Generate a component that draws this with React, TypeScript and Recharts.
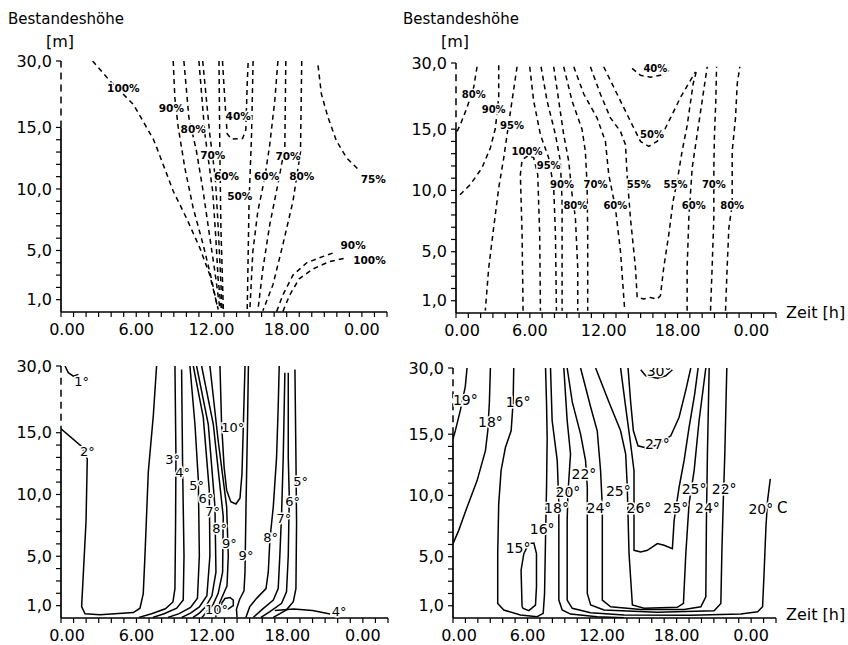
import React from "react";
import { ComposedChart, Line, Scatter, XAxis, YAxis, ReferenceLine } from "recharts";

type Pt = [number, number]; // [Zeit in h, Bestandeshöhe in m]
type Lbl = { t: string; h: number; m: number };

const FONT = '"DejaVu Sans", sans-serif';

// height axis is linear up to 15 m, the 15-30 m part is squeezed
const TOP_U = 20.4;
const toU = (m: number) => (m <= 15 ? m : 15 + ((m - 15) * (TOP_U - 15)) / 15);

const HOURS = Array.from({ length: 27 }, (_, i) => i);
const HOUR_LABELS: Record<number, string> = { 0: "0.00", 6: "6.00", 12: "12.00", 18: "18.00", 24: "0.00" };
const HEIGHTS = [1, 2, 3, 4, 5, 6, 7, 8, 9, 10, 11, 12, 13, 14, 15, 30];
const HEIGHT_LABELS: Record<number, string> = { 1: "1,0", 5: "5,0", 10: "10,0", 15: "15,0", 30: "30,0" };

// ---- relative Luftfeuchte, links oben
const TL_100: Pt[] = [[2.52, 30], [3.9, 25.5], [5.76, 20.25], [7.36, 14.06], [7.62, 13.4], [8.95, 9.83], [10.0, 7.64], [11.08, 5.19], [11.87, 3.0], [12.54, 0.2]];
const TL_90: Pt[] = [[8.95, 30], [9.08, 21.7], [9.35, 15], [9.88, 11.7], [10.54, 8.46], [11.34, 5.46], [12.0, 2.7], [12.5, 0.3]];
const TL_80: Pt[] = [[9.8, 30], [10.2, 17.2], [10.8, 13.1], [11.34, 9.8], [11.8, 6.55], [12.27, 3.3], [12.67, 0.3]];
const TL_70: Pt[] = [[11.0, 30], [11.47, 14.5], [12.1, 9.8], [12.35, 6], [12.53, 2.7], [12.8, 0.1]];
const TL_60: Pt[] = [[11.3, 30], [11.87, 14.4], [12.3, 11], [12.5, 7.6], [12.7, 3.5], [12.85, 0.1]];
const TL_50: Pt[] = [[12.6, 30], [12.67, 13], [12.75, 7], [12.95, 0.1]];
const TL_40: Pt[] = [[12.88, 30], [13.07, 21], [13.25, 14.5], [13.6, 14.05], [14.48, 14.1], [14.74, 14.8], [14.85, 24.75], [14.93, 30]];
const TL_50R: Pt[] = [[15.32, 30], [15.2, 14.5], [15.0, 9], [14.85, 0.1]];
const TL_60R: Pt[] = [[17.3, 30], [17.05, 21.1], [16.65, 13.6], [16.25, 10.9], [15.7, 8.2], [15.3, 4.9], [15.06, 0.1]];
const TL_70R: Pt[] = [[17.93, 30], [17.85, 13.4], [17.3, 10.4], [16.65, 7.1], [16.1, 3.5], [15.7, 0.1]];
const TL_80R: Pt[] = [[19.2, 30], [19.1, 13], [18.5, 9], [17.7, 5.5], [16.9, 2.2], [16.1, 0.1]];
const TL_75: Pt[] = [[20.5, 29], [20.77, 22.5], [21.3, 17.25], [21.97, 13.9], [22.76, 12.55], [23.8, 11.5]];
const TL_90B: Pt[] = [[17.2, 0.05], [17.7, 1.4], [18.5, 3.0], [19.6, 4.0], [20.6, 4.4], [21.7, 4.8]];
const TL_100B: Pt[] = [[17.7, 0.05], [18.25, 1.4], [19.0, 2.7], [20.1, 3.5], [21.4, 4.1], [22.8, 4.4]];
const TL_LABELS: Lbl[] = [
  { t: "100%", h: 4.97, m: 23.9 }, { t: "90%", h: 8.8, m: 19.5 }, { t: "80%", h: 10.54, m: 14.9 },
  { t: "70%", h: 12.1, m: 12.8 }, { t: "60%", h: 13.2, m: 11.05 }, { t: "50%", h: 14.26, m: 9.4 },
  { t: "40%", h: 14.13, m: 17.6 }, { t: "60%", h: 16.4, m: 11.05 }, { t: "70%", h: 18.1, m: 12.7 },
  { t: "80%", h: 19.2, m: 11.05 }, { t: "75%", h: 24.9, m: 10.8 }, { t: "90%", h: 23.3, m: 5.46 },
  { t: "100%", h: 24.6, m: 4.2 },
];

// ---- relative Luftfeuchte, rechts oben
const TR_80L: Pt[] = [[1.71, 29.15], [1.44, 24.5], [0.89, 19.87], [0.35, 16.0], [0.08, 14.8]];
const TR_90L: Pt[] = [[3.47, 29.5], [3.47, 22.2], [3.2, 15.2], [2.79, 13.47], [2.11, 11.84], [1.17, 10.49], [0.22, 9.54]];
const TR_95L: Pt[] = [[4.96, 29.15], [4.55, 21.4], [4.15, 14.55], [3.88, 12.66], [3.47, 10.2], [3.06, 6.96], [2.66, 3.71], [2.38, 0.19]];
const TR_100: Pt[] = [[5.45, 0.19], [5.37, 6.42], [5.23, 11.3], [5.37, 12.5], [5.91, 12.87], [6.31, 12.66], [6.64, 11.3], [6.8, 6.42], [6.86, 0.19]];
const TR_95R: Pt[] = [[5.99, 29.15], [6.31, 21.4], [6.86, 14.55], [7.53, 12.66], [7.94, 10.2], [8.08, 6.42], [8.16, 0.19]];
const TR_90R: Pt[] = [[6.91, 29.15], [7.4, 21.4], [8.08, 14.55], [8.48, 12.38], [8.62, 9.13], [8.62, 3.71], [8.62, 0.19]];
const TR_80R: Pt[] = [[7.94, 29.15], [8.35, 21.4], [8.75, 14.55], [9.16, 12.38], [9.43, 9.67], [9.7, 7.78], [9.89, 3.71], [9.89, 0.19]];
const TR_70L: Pt[] = [[8.75, 29.15], [9.43, 21.4], [10.24, 15.0], [10.51, 13.2], [10.65, 10.49], [10.7, 6.42], [10.7, 0.19]];
const TR_60L: Pt[] = [[9.57, 29.15], [10.38, 22.97], [11.46, 17.55], [12.14, 14.0], [12.41, 11.3], [12.95, 8.59], [13.36, 5.07], [13.71, 0.19]];
const TR_55: Pt[] = [[10.92, 29.15], [11.73, 22.97], [12.55, 17.55], [13.36, 14.82], [13.77, 13.74], [13.9, 11.3], [14.17, 7.78], [14.58, 3.71], [14.72, 1.27], [15.26, 1.14], [15.8, 1.27], [16.34, 1.14], [16.61, 1.41], [16.88, 3.71], [17.29, 6.42], [17.64, 9.13], [17.97, 10.76], [18.37, 13.2], [18.78, 15.8], [19.27, 25.3], [19.59, 28.77]];
const TR_50: Pt[] = [[12.0, 29.15], [12.82, 24.5], [13.63, 19.87], [14.44, 15.3], [14.99, 14.0], [15.66, 13.6], [16.34, 14.0], [16.88, 14.82], [17.43, 17.55], [18.24, 22.2], [19.05, 26.06], [19.46, 28.0]];
const TR_40: Pt[] = [[14.31, 28.77], [14.99, 27.2], [15.8, 26.8], [16.61, 27.2], [17.43, 28.5]];
const TR_60R: Pt[] = [[18.78, 0.19], [18.78, 3.71], [18.92, 7.78], [19.19, 11.84], [19.59, 14.55], [20.0, 21.4], [20.41, 29.15]];
const TR_70R: Pt[] = [[20.68, 0.19], [20.81, 3.71], [20.95, 7.78], [20.95, 11.84], [21.0, 14.55], [21.11, 21.4], [21.17, 29.15]];
const TR_80R2: Pt[] = [[21.9, 0.19], [22.03, 3.71], [22.17, 6.96], [22.44, 8.86], [22.44, 13.2], [22.71, 17.55], [22.85, 25.3], [23.06, 29.15]];
const TR_LABELS: Lbl[] = [
  { t: "80%", h: 1.44, m: 22.97 }, { t: "90%", h: 3.06, m: 19.5 }, { t: "95%", h: 4.55, m: 15.85 },
  { t: "100%", h: 5.77, m: 13.2 }, { t: "95%", h: 7.53, m: 12.0 }, { t: "90%", h: 8.62, m: 10.49 },
  { t: "80%", h: 9.7, m: 8.8 }, { t: "70%", h: 11.33, m: 10.49 }, { t: "60%", h: 12.95, m: 8.8 },
  { t: "55%", h: 14.85, m: 10.49 }, { t: "50%", h: 15.93, m: 14.55 }, { t: "40%", h: 16.2, m: 28.77 },
  { t: "55%", h: 17.83, m: 10.49 }, { t: "60%", h: 19.32, m: 8.8 }, { t: "70%", h: 20.95, m: 10.49 },
  { t: "80%", h: 22.44, m: 8.8 },
];

// ---- Lufttemperatur, links unten
const BL_1: Pt[] = [[0.32, 30], [0.58, 28.5], [0.98, 27.7], [1.38, 28.1]];
const BL_2: Pt[] = [[0, 15.9], [1.64, 13.88], [2.09, 12.87], [1.99, 7.83], [1.64, 0.92], [1.91, 0.34], [3.1, 0.26], [5.75, 0.44], [6.28, 0.79], [6.54, 1.98], [6.68, 5.17], [6.94, 11.81], [7.34, 18.85], [7.6, 30]];
const BL_3: Pt[] = [[9.06, 30], [9.14, 13], [9.11, 7.69], [9.06, 2.38], [8.9, 1.3], [8.3, 0.75], [7.2, 0.35], [6.2, 0.05]];
const BL_4: Pt[] = [[9.59, 29.2], [9.67, 12.2], [9.78, 5.04], [9.72, 1.45], [9.2, 0.8], [8.2, 0.35], [7.3, 0.05]];
const BL_5: Pt[] = [[10.25, 30], [10.65, 16.9], [10.92, 11.15], [11.0, 5.04], [10.85, 1.6], [10.3, 0.85], [9.4, 0.35], [8.5, 0.05]];
const BL_6: Pt[] = [[10.52, 30], [11.31, 18.5], [11.79, 10.35], [11.84, 5.04], [11.6, 1.8], [11.0, 0.9], [10.3, 0.4], [9.6, 0.05]];
const BL_7: Pt[] = [[10.78, 30], [11.71, 16.9], [12.24, 9.02], [12.32, 3.71], [12.0, 1.8], [11.5, 0.9], [11.0, 0.4], [10.5, 0.05]];
const BL_8: Pt[] = [[11.18, 30], [12.11, 16.9], [12.9, 8.22], [12.85, 3.71], [12.5, 2.0], [12.1, 1.1], [11.6, 0.5], [11.2, 0.05]];
const BL_9L: Pt[] = [[11.84, 30], [12.5, 14.33], [13.17, 9.02], [13.3, 5.04], [13.2, 2.6], [12.9, 1.9], [12.6, 1.2], [12.4, 0.5], [12.3, 0.05]];
const BL_10: Pt[] = [[12.64, 30], [12.77, 16.9], [12.97, 12.2], [13.17, 10.35], [13.5, 9.42], [13.91, 9.23], [14.23, 9.69], [14.39, 11.68], [14.5, 16.9], [14.63, 30]];
const BL_10B: Pt[] = [[12.77, 1.19], [13.04, 1.58], [13.44, 1.66], [13.7, 1.45], [13.7, 1.0], [13.3, 0.73], [12.85, 0.92], [12.77, 1.19]];
const BL_9R: Pt[] = [[14.9, 30], [14.83, 16.9], [14.71, 9.02], [14.63, 3.71], [14.55, 2.2], [14.2, 1.5], [13.95, 0.7], [14.0, 0.05]];
const BL_8R: Pt[] = [[17.35, 30], [17.27, 20.8], [17.14, 13.0], [16.88, 9.02], [16.61, 6.36], [16.48, 3.71], [16.3, 2.38], [15.55, 1.59], [15.0, 0.9], [14.7, 0.05]];
const BL_7R: Pt[] = [[17.8, 28.5], [17.67, 13.0], [17.54, 8.49], [17.4, 5.04], [17.27, 2.38], [16.88, 1.45], [16.0, 0.7], [15.3, 0.05]];
const BL_6R: Pt[] = [[18.07, 28.5], [18.07, 13.0], [18.15, 9.82], [18.07, 5.04], [17.93, 2.12], [17.54, 1.19], [16.61, 0.52], [15.9, 0.05]];
const BL_5R: Pt[] = [[18.6, 29.2], [18.68, 13.0], [18.73, 7.69], [18.68, 2.38], [18.47, 1.32], [17.93, 0.66], [16.88, 0.05]];
const BL_4R: Pt[] = [[17.0, 0.6], [18.5, 0.72], [20.0, 0.6], [21.4, 0.33]];
const BL_LABELS: Lbl[] = [
  { t: "1°", h: 1.64, m: 26.5 }, { t: "2°", h: 2.09, m: 13.45 }, { t: "3°", h: 8.88, m: 12.82 },
  { t: "4°", h: 9.67, m: 11.76 }, { t: "5°", h: 10.78, m: 10.75 }, { t: "6°", h: 11.53, m: 9.69 },
  { t: "7°", h: 12.06, m: 8.6 }, { t: "8°", h: 12.62, m: 7.25 }, { t: "9°", h: 13.38, m: 6.01 },
  { t: "10°", h: 13.65, m: 16.15 }, { t: "9°", h: 14.71, m: 5.04 }, { t: "8°", h: 16.67, m: 6.5 },
  { t: "7°", h: 17.73, m: 8.09 }, { t: "6°", h: 18.42, m: 9.42 }, { t: "5°", h: 19.05, m: 11.06 },
  { t: "10°", h: 12.37, m: 0.65 }, { t: "4°", h: 22.12, m: 0.5 },
];

// ---- Lufttemperatur, rechts unten
const BR_19: Pt[] = [[1.13, 30], [0.99, 25.8], [0.59, 20.4], [0.19, 15.8], [0, 14.63]];
const BR_18L: Pt[] = [[3.01, 30], [2.93, 22.3], [2.8, 15.77], [2.61, 13.65], [1.94, 11.21], [1.13, 9.04], [0.46, 7.15], [0, 6.07]];
const BR_16: Pt[] = [[4.89, 30], [4.84, 22.3], [4.68, 15.77], [4.22, 13.92], [3.87, 12.02], [3.68, 9.31], [3.6, 5.25], [3.6, 1.19], [4.09, 0.65], [5.43, 0.24], [6.77, 0.11], [7.26, 0.38], [7.37, 2.0], [7.45, 6.61], [7.53, 10.67], [7.58, 14.73], [7.53, 21.9], [7.45, 30]];
const BR_15: Pt[] = [[5.56, 0.92], [5.48, 3.9], [5.7, 5.25], [6.1, 6.07], [6.51, 6.12], [6.72, 5.25], [6.72, 2.55], [6.64, 1.06], [6.1, 0.6], [5.65, 0.79], [5.56, 0.92]];
const BR_18: Pt[] = [[7.85, 30], [7.98, 18.1], [8.39, 12.84], [8.52, 9.31], [8.52, 1.46], [8.79, 0.65], [9.46, 0.32], [11.61, 0.11], [13.76, 0.03]];
const BR_20: Pt[] = [[8.92, 30], [9.19, 18.1], [9.46, 13.38], [9.25, 10.13], [9.19, 7.96], [9.19, 1.46], [9.6, 0.79], [11.08, 0.43], [13.76, 0.24], [19.14, 0.22], [23.17, 0.32], [24.52, 0.51], [24.92, 0.92], [25.05, 3.9], [25.19, 7.42], [25.32, 9.58], [25.54, 11.35]];
const BR_22: Pt[] = [[9.19, 30], [9.6, 22.3], [10.27, 15.0], [10.67, 12.84], [10.81, 10.67], [10.81, 2.0], [11.08, 1.06], [12.15, 0.65], [16.45, 0.46], [21.02, 0.6], [21.56, 1.19], [21.64, 5.25], [21.75, 9.31], [21.88, 13.38], [22.04, 30]];
const BR_24: Pt[] = [[10.27, 30], [11.08, 21.15], [11.61, 15.77], [11.88, 12.02], [12.02, 9.04], [12.02, 1.46], [12.69, 0.92], [15.11, 0.7], [18.6, 0.7], [19.95, 0.92], [20.35, 1.73], [20.4, 7.96], [20.48, 13.38], [20.62, 30]];
const BR_25: Pt[] = [[11.48, 30], [12.55, 22.3], [13.49, 15.77], [13.9, 13.38], [14.03, 10.67], [14.17, 5.25], [14.44, 1.06], [15.38, 0.79], [18.06, 0.87], [18.55, 1.19], [18.74, 5.25], [19.0, 9.31], [19.41, 12.02], [19.81, 18.1], [20.35, 30]];
const BR_26: Pt[] = [[13.49, 30], [13.9, 21.15], [14.3, 14.19], [14.57, 12.02], [14.57, 5.52], [15.11, 5.39], [15.65, 5.52], [16.45, 6.07], [16.99, 5.93], [17.66, 5.66], [17.8, 7.96], [18.2, 10.67], [18.6, 12.84], [19.0, 16.5], [19.46, 24.2], [19.73, 30]];
const BR_27: Pt[] = [[14.09, 30], [14.3, 22.3], [14.52, 15.77], [14.89, 14.05], [15.65, 13.86], [16.45, 14.13], [17.53, 14.87], [18.2, 18.85], [18.74, 25.0], [19.14, 30]];
const BR_30: Pt[] = [[15.11, 29.6], [15.51, 28.23], [16.45, 27.7], [17.12, 28.23], [17.66, 29.6]];
const BR_LABELS: Lbl[] = [
  { t: "19°", h: 0.99, m: 22.7 }, { t: "18°", h: 3.01, m: 17.7 }, { t: "16°", h: 5.24, m: 22.3 },
  { t: "30°", h: 16.59, m: 29.3 }, { t: "27°", h: 16.45, m: 14.19 }, { t: "22°", h: 10.54, m: 11.75 },
  { t: "20°", h: 9.25, m: 10.26 }, { t: "25°", h: 13.31, m: 10.4 }, { t: "18°", h: 8.33, m: 8.99 },
  { t: "24°", h: 11.75, m: 8.99 }, { t: "26°", h: 14.97, m: 8.99 }, { t: "25°", h: 17.93, m: 8.99 },
  { t: "25°", h: 19.41, m: 10.53 }, { t: "24°", h: 20.48, m: 8.99 }, { t: "22°", h: 21.83, m: 10.53 },
  { t: "20°", h: 24.78, m: 8.9 }, { t: "16°", h: 7.18, m: 7.28 }, { t: "15°", h: 5.24, m: 5.71 },
];

const toRows = (pts: Pt[]) => pts.map(([h, m]) => ({ x: h, y: toU(m) }));
const toLabelRows = (ls: Lbl[]) => ls.map((l) => ({ x: l.h, y: toU(l.m), t: l.t }));

type PanelProps = {
  left: number; top: number; width: number; height: number;
  yw: number; mt: number; mr: number; xh: number;
  lines: Pt[][]; labels: Lbl[]; dashed: boolean; lblSize: number; lblWeight: string;
};

function heightLabel(v: number) {
  const m = HEIGHTS.find((h) => Math.abs(toU(h) - v) < 1e-6);
  return m !== undefined && HEIGHT_LABELS[m] ? HEIGHT_LABELS[m] : "";
}

// x tick: the first "0.00" sits a little right of the axis in the original
function HourTick(props: any) {
  const { x, y, payload } = props;
  const label = HOUR_LABELS[payload.value] ?? "";
  if (!label) return null;
  return (
    <text x={x + (payload.value === 0 ? 6 : 0)} y={y} dy="0.71em" textAnchor="middle"
      fontFamily={FONT} fontSize={16} fill="#000">{label}</text>
  );
}

function Panel(p: PanelProps) {
  const tickStyle = { fill: "#000", fontSize: 16, fontFamily: FONT };
  return (
    <div style={{ position: "absolute", left: p.left, top: p.top }}>
      <ComposedChart width={p.width} height={p.height} margin={{ top: p.mt, right: p.mr, bottom: 0, left: 0 }}>
        <XAxis type="number" dataKey="x" domain={[0, 26]} allowDataOverflow ticks={HOURS} interval={0}
          height={p.xh} tickSize={5} tickMargin={7} tick={<HourTick />}
          axisLine={{ stroke: "#000", strokeWidth: 1.7 }} tickLine={{ stroke: "#000", strokeWidth: 1.2 }} />
        <YAxis type="number" dataKey="y" domain={[0, TOP_U]} allowDataOverflow ticks={HEIGHTS.map(toU)} interval={0}
          tickFormatter={heightLabel} width={p.yw} tickSize={5} tickMargin={4} tick={tickStyle}
          axisLine={false} tickLine={{ stroke: "#000", strokeWidth: 1.2 }} />
        <ReferenceLine segment={[{ x: 0, y: 0 }, { x: 0, y: 15 }]} stroke="#000" strokeWidth={1.7} />
        <ReferenceLine segment={[{ x: 0, y: 15 }, { x: 0, y: TOP_U }]} stroke="#000" strokeWidth={1.5} strokeDasharray="7 5" />
        {p.lines.map((l, i) => (
          <Line key={i} data={toRows(l)} dataKey="y" type="linear" stroke="#000" strokeWidth={1.5}
            strokeDasharray={p.dashed ? "5 4" : undefined} dot={false} activeDot={false} isAnimationActive={false} />
        ))}
        <Scatter data={toLabelRows(p.labels)} dataKey="y" isAnimationActive={false}
          shape={(s: any) => (
            <text x={s.cx} y={s.cy} textAnchor="middle" dominantBaseline="central" fontFamily={FONT}
              fontSize={p.lblSize} fontWeight={p.lblWeight} fill="#000" stroke="#fff" strokeWidth={3}
              paintOrder="stroke">{s.payload.t}</text>
          )} />
      </ComposedChart>
    </div>
  );
}

const txt = (left: number, top: number, size: number): React.CSSProperties => ({
  position: "absolute", left, top, fontFamily: FONT, fontSize: size, lineHeight: 1, color: "#000", whiteSpace: "nowrap",
});

export default function App() {
  return (
    <div style={{ position: "absolute", left: 0, top: 0, width: 848, height: 645, background: "#fff", overflow: "hidden" }}>
      <Panel left={0} top={0} width={424} height={345} yw={61} mt={61} mr={37} xh={33}
        lines={[TL_100, TL_90, TL_80, TL_70, TL_60, TL_50, TL_40, TL_50R, TL_60R, TL_70R, TL_80R, TL_75, TL_90B, TL_100B]}
        labels={TL_LABELS} dashed lblSize={10.5} lblWeight="bold" />
      <Panel left={390} top={0} width={458} height={345} yw={66} mt={63} mr={72} xh={32}
        lines={[TR_80L, TR_90L, TR_95L, TR_100, TR_95R, TR_90R, TR_80R, TR_70L, TR_60L, TR_55, TR_50, TR_40, TR_60R, TR_70R, TR_80R2]}
        labels={TR_LABELS} dashed lblSize={10} lblWeight="bold" />
      <Panel left={0} top={320} width={424} height={325} yw={61} mt={46} mr={36} xh={27}
        lines={[BL_1, BL_2, BL_3, BL_4, BL_5, BL_6, BL_7, BL_8, BL_9L, BL_10, BL_10B, BL_9R, BL_8R, BL_7R, BL_6R, BL_5R, BL_4R]}
        labels={BL_LABELS} dashed={false} lblSize={13} lblWeight="normal" />
      <Panel left={390} top={320} width={458} height={325} yw={63} mt={48} mr={72} xh={27}
        lines={[BR_19, BR_18L, BR_16, BR_15, BR_18, BR_20, BR_22, BR_24, BR_25, BR_26, BR_27, BR_30]}
        labels={BR_LABELS} dashed={false} lblSize={14} lblWeight="normal" />

      <div style={txt(8, 12, 15)}>Bestandeshöhe</div>
      <div style={txt(46, 34, 16)}>[m]</div>
      <div style={txt(403, 12, 15)}>Bestandeshöhe</div>
      <div style={txt(441, 34, 16)}>[m]</div>
      <div style={txt(786, 305, 16)}>Zeit [h]</div>
      <div style={txt(786, 607, 16)}>Zeit [h]</div>
      <div style={txt(777, 501, 15)}>C</div>
    </div>
  );
}
